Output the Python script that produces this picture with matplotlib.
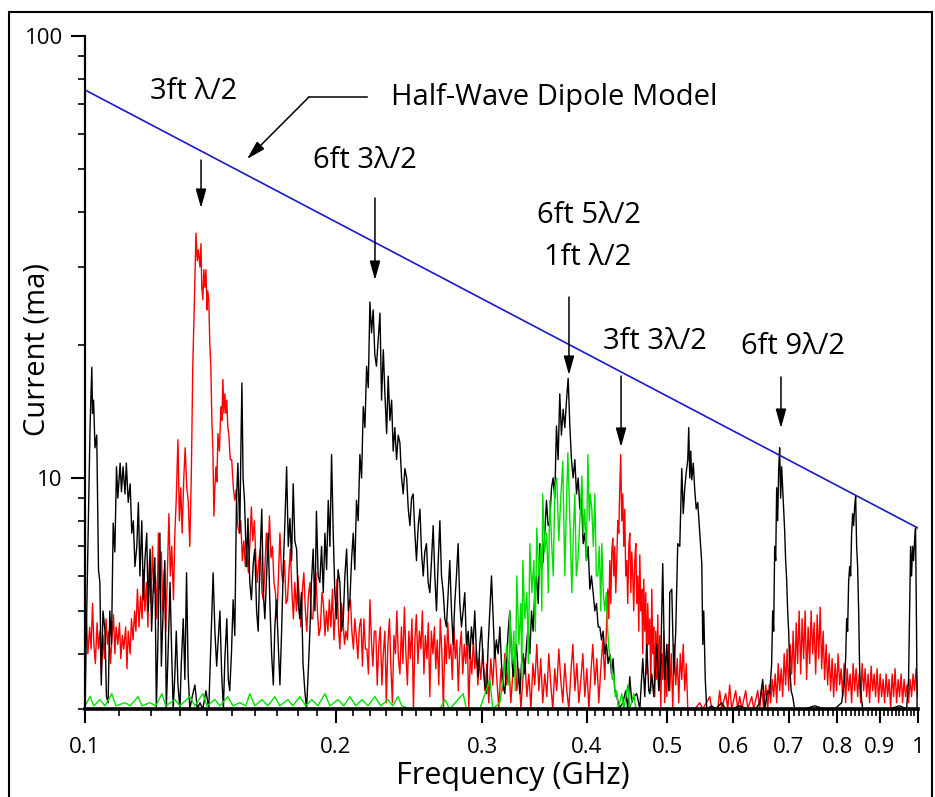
import matplotlib
import matplotlib.pyplot as plt
import numpy as np
from matplotlib.patches import Rectangle
from matplotlib.ticker import FixedLocator, FixedFormatter, NullFormatter

plt.switch_backend("agg")
plt.rcParams["font.family"] = ["Open Sans", "DejaVu Sans"]

# half-wave dipole model (straight line on log-log)
DIPOLE_F = [0.1, 1.0]
DIPOLE_I = [75.5, 7.7]

BLACK = [
    (0.1000, 3.0), (0.1008, 7.0), (0.1014, 13.0), (0.1019, 17.8), (0.1021, 14.0),
    (0.1024, 15.0), (0.1028, 11.7), (0.1033, 12.5), (0.1038, 6.2), (0.1042, 5.8),
    (0.1046, 3.4), (0.1051, 5.0), (0.1057, 4.5), (0.1061, 3.2), (0.1066, 3.1),
    (0.1071, 5.0), (0.1076, 4.2), (0.1081, 7.9), (0.1086, 6.8), (0.1091, 10.6),
    (0.1095, 9.0), (0.1102, 10.8), (0.1106, 9.3), (0.1111, 10.6), (0.1117, 9.2),
    (0.1121, 10.8), (0.1127, 8.8), (0.1133, 9.7), (0.1138, 7.5), (0.1143, 8.0),
    (0.1148, 6.3), (0.1154, 7.0), (0.1159, 8.8), (0.1164, 6.0), (0.1170, 8.0),
    (0.1175, 5.3), (0.1180, 6.5), (0.1186, 7.5), (0.1191, 5.0), (0.1197, 6.9),
    (0.1202, 4.5), (0.1207, 5.5), (0.1213, 6.6), (0.1218, 3.0), (0.1224, 4.5),
    (0.1230, 7.5), (0.1235, 3.75), (0.1241, 5.0), (0.1247, 6.5), (0.1252, 3.0),
    (0.1258, 4.0), (0.1265, 5.8), (0.1270, 4.2), (0.1276, 3.0), (0.1282, 3.6),
    (0.1287, 4.5), (0.1293, 3.4), (0.1300, 3.0), (0.1305, 3.8), (0.1312, 4.8),
    (0.1318, 3.5), (0.1324, 6.1), (0.1330, 3.6), (0.1336, 3.0), (0.1345, 3.2),
    (0.1355, 3.4), (0.1364, 3.0), (0.1374, 3.1), (0.1385, 3.0), (0.1397, 3.3),
    (0.1408, 3.0), (0.1416, 4.2), (0.1425, 6.1), (0.1432, 4.5), (0.1439, 3.75),
    (0.1445, 4.3), (0.1452, 5.0), (0.1459, 3.6), (0.1466, 3.0), (0.1472, 3.9),
    (0.1480, 4.8), (0.1486, 3.5), (0.1492, 3.3), (0.1499, 4.0), (0.1506, 5.3),
    (0.1513, 4.4), (0.1520, 8.9), (0.1526, 10.8), (0.1534, 7.5), (0.1538, 11.0),
    (0.1543, 16.4), (0.1548, 10.0), (0.1554, 8.9), (0.1563, 6.3), (0.1569, 8.1),
    (0.1577, 5.8), (0.1584, 5.3), (0.1592, 6.4), (0.1599, 6.9), (0.1607, 5.0),
    (0.1614, 4.5), (0.1622, 6.5), (0.1630, 8.5), (0.1637, 5.5), (0.1644, 4.8),
    (0.1652, 6.0), (0.1659, 7.5), (0.1667, 5.2), (0.1675, 4.0), (0.1683, 3.4),
    (0.1690, 4.6), (0.1698, 5.3), (0.1706, 4.2), (0.1714, 3.4), (0.1722, 4.5),
    (0.1730, 6.3), (0.1738, 8.0), (0.1746, 10.6), (0.1754, 7.0), (0.1762, 8.1),
    (0.1770, 6.5), (0.1778, 9.7), (0.1786, 7.2), (0.1795, 6.9), (0.1803, 5.2),
    (0.1811, 4.8), (0.1819, 5.5), (0.1827, 3.8), (0.1836, 3.3), (0.1845, 3.0),
    (0.1853, 3.6), (0.1862, 4.5), (0.1870, 5.8), (0.1879, 6.9), (0.1888, 5.0),
    (0.1896, 8.4), (0.1905, 6.0), (0.1914, 5.8), (0.1923, 7.0), (0.1932, 5.5),
    (0.1941, 7.5), (0.1950, 6.2), (0.1959, 8.9), (0.1968, 7.0), (0.1977, 11.3),
    (0.1986, 7.5), (0.1995, 5.5), (0.2004, 4.8), (0.2013, 6.2), (0.2023, 5.8),
    (0.2032, 4.5), (0.2042, 4.8), (0.2051, 6.0), (0.2061, 6.9), (0.2071, 5.0),
    (0.2080, 5.3), (0.2089, 6.5), (0.2099, 7.5), (0.2108, 6.2), (0.2118, 8.9),
    (0.2128, 8.0), (0.2138, 11.3), (0.2148, 10.0), (0.2158, 14.5), (0.2168, 13.0),
    (0.2178, 17.9), (0.2188, 16.0), (0.2198, 25.0), (0.2208, 21.3), (0.2218, 24.0),
    (0.2228, 19.0), (0.2238, 17.9), (0.2249, 20.5), (0.2260, 23.6), (0.2270, 15.0),
    (0.2281, 19.5), (0.2291, 15.5), (0.2302, 12.6), (0.2312, 17.0), (0.2323, 13.5),
    (0.2334, 15.0), (0.2344, 11.5), (0.2355, 13.0), (0.2366, 11.0), (0.2377, 12.5),
    (0.2388, 12.0), (0.2399, 10.0), (0.2410, 9.2), (0.2421, 10.5), (0.2433, 10.0),
    (0.2444, 8.5), (0.2455, 7.8), (0.2466, 9.0), (0.2477, 9.2), (0.2489, 7.5),
    (0.2500, 6.5), (0.2512, 7.8), (0.2524, 8.5), (0.2535, 6.8), (0.2547, 6.0),
    (0.2558, 6.8), (0.2570, 7.1), (0.2582, 5.8), (0.2594, 5.5), (0.2606, 6.5),
    (0.2618, 7.8), (0.2630, 6.0), (0.2642, 5.0), (0.2655, 6.5), (0.2667, 8.0),
    (0.2679, 6.0), (0.2692, 5.5), (0.2704, 4.8), (0.2716, 4.6), (0.2729, 5.5),
    (0.2741, 6.5), (0.2754, 5.0), (0.2767, 4.2), (0.2779, 5.2), (0.2792, 6.0),
    (0.2805, 7.1), (0.2818, 5.2), (0.2831, 4.6), (0.2844, 5.0), (0.2857, 5.5),
    (0.2870, 4.2), (0.2884, 4.5), (0.2897, 3.9), (0.2910, 4.6), (0.2924, 4.2),
    (0.2937, 5.0), (0.2951, 4.0), (0.2965, 3.55), (0.2978, 4.2), (0.2992, 4.6),
    (0.3006, 3.8), (0.3020, 3.4), (0.3034, 3.25), (0.3048, 4.2), (0.3062, 5.0),
    (0.3076, 6.0), (0.3090, 4.8), (0.3104, 3.9), (0.3118, 4.3), (0.3133, 4.0),
    (0.3148, 4.6), (0.3162, 3.8), (0.3177, 3.4), (0.3191, 3.25), (0.3206, 3.8),
    (0.3221, 4.5), (0.3236, 5.0), (0.3251, 4.0), (0.3266, 3.55), (0.3281, 3.8),
    (0.3296, 4.2), (0.3312, 3.6), (0.3327, 3.25), (0.3342, 3.8), (0.3358, 4.0),
    (0.3373, 3.6), (0.3389, 4.2), (0.3404, 4.6), (0.3420, 4.0), (0.3436, 5.0),
    (0.3451, 4.5), (0.3467, 5.5), (0.3483, 6.0), (0.3500, 5.2), (0.3516, 7.1),
    (0.3532, 6.2), (0.3548, 6.5), (0.3564, 7.5), (0.3581, 8.9), (0.3597, 7.8),
    (0.3614, 8.0), (0.3631, 9.5), (0.3647, 10.0), (0.3664, 9.0), (0.3681, 13.1),
    (0.3698, 11.0), (0.3715, 15.5), (0.3732, 12.5), (0.3750, 14.3), (0.3767, 13.0),
    (0.3785, 15.0), (0.3802, 16.8), (0.3820, 13.1), (0.3837, 11.0), (0.3855, 10.0),
    (0.3873, 11.0), (0.3891, 9.2), (0.3909, 10.0), (0.3927, 8.5), (0.3945, 9.0),
    (0.3963, 7.1), (0.3981, 7.5), (0.4000, 6.5), (0.4018, 7.0), (0.4037, 5.6),
    (0.4055, 6.0), (0.4074, 5.5), (0.4093, 5.0), (0.4112, 5.2), (0.4131, 4.6),
    (0.4150, 4.6), (0.4169, 4.3), (0.4188, 4.5), (0.4207, 4.0), (0.4227, 4.2),
    (0.4246, 3.8), (0.4266, 4.0), (0.4286, 3.6), (0.4305, 3.9), (0.4325, 3.3),
    (0.4345, 3.25), (0.4365, 3.1), (0.4385, 3.02), (0.4422, 3.1), (0.4458, 3.3),
    (0.4483, 3.0), (0.4508, 3.55), (0.4533, 3.1), (0.4558, 3.2), (0.4596, 3.25),
    (0.4635, 3.0), (0.4673, 3.9), (0.4699, 3.2), (0.4725, 4.2), (0.4751, 3.3),
    (0.4765, 3.25), (0.4791, 3.6), (0.4817, 3.2), (0.4857, 4.2), (0.4884, 3.3),
    (0.4911, 3.8), (0.4938, 6.4), (0.4966, 3.5), (0.4993, 4.2), (0.5021, 3.3),
    (0.5035, 5.5), (0.5063, 5.6), (0.5091, 3.6), (0.5119, 4.5), (0.5147, 7.1),
    (0.5176, 7.0), (0.5190, 8.5), (0.5205, 10.5), (0.5226, 8.3), (0.5248, 9.5),
    (0.5270, 10.3), (0.5292, 11.0), (0.5306, 13.0), (0.5321, 10.0), (0.5336, 11.5),
    (0.5350, 9.9), (0.5373, 10.8), (0.5395, 9.4), (0.5417, 8.5), (0.5440, 8.8),
    (0.5470, 7.5), (0.5501, 6.4), (0.5516, 4.2), (0.5531, 5.0), (0.5554, 3.5),
    (0.5577, 3.0), (0.5655, 3.05), (0.5717, 3.0), (0.5812, 3.1), (0.5877, 3.0),
    (0.5975, 3.0), (0.6109, 3.05), (0.6246, 3.0), (0.6385, 3.0), (0.6456, 3.1),
    (0.6510, 3.5), (0.6546, 3.0), (0.6600, 3.3), (0.6637, 3.25), (0.6673, 3.8),
    (0.6692, 5.0), (0.6710, 4.5), (0.6729, 7.0), (0.6748, 6.5), (0.6766, 9.5),
    (0.6785, 8.0), (0.6804, 10.5), (0.6822, 11.7), (0.6841, 9.0), (0.6860, 10.6),
    (0.6879, 9.5), (0.6898, 8.5), (0.6917, 7.6), (0.6936, 6.5), (0.6955, 5.9),
    (0.6975, 5.0), (0.6994, 4.5), (0.7013, 3.8), (0.7042, 3.3), (0.7072, 3.2),
    (0.7111, 3.0), (0.7310, 3.0), (0.7515, 3.05), (0.7725, 3.0), (0.7942, 3.0),
    (0.8097, 3.1), (0.8164, 3.5), (0.8187, 3.9), (0.8210, 4.8), (0.8232, 4.5),
    (0.8255, 5.8), (0.8278, 6.3), (0.8301, 6.0), (0.8324, 7.5), (0.8347, 8.3),
    (0.8370, 7.8), (0.8393, 8.6), (0.8417, 9.1), (0.8440, 7.0), (0.8463, 6.3),
    (0.8487, 5.0), (0.8510, 3.7), (0.8534, 3.3), (0.8581, 3.0), (0.8870, 3.0),
    (0.9245, 3.0), (0.9504, 3.05), (0.9690, 3.0), (0.9743, 3.5), (0.9770, 5.0),
    (0.9797, 7.0), (0.9824, 6.0), (0.9851, 7.0), (0.9878, 6.5), (0.9905, 7.2),
    (0.9932, 7.7), (0.9960, 4.5), (0.9975, 3.0),
]

RED = [
    (0.1000, 4.3), (0.1004, 4.8), (0.1008, 4.0), (0.1013, 4.6), (0.1017, 4.1),
    (0.1021, 5.2), (0.1025, 4.2), (0.1029, 3.8), (0.1034, 4.7), (0.1038, 4.1),
    (0.1042, 4.5), (0.1046, 3.6), (0.1051, 4.4), (0.1055, 3.9), (0.1060, 4.8),
    (0.1064, 4.2), (0.1068, 4.5), (0.1073, 3.8), (0.1077, 4.3), (0.1082, 4.9),
    (0.1086, 4.0), (0.1090, 4.6), (0.1095, 4.2), (0.1100, 4.7), (0.1104, 3.9),
    (0.1109, 4.4), (0.1113, 4.1), (0.1119, 4.6), (0.1123, 3.7), (0.1127, 4.5),
    (0.1133, 4.0), (0.1137, 4.8), (0.1142, 4.3), (0.1147, 5.0), (0.1151, 4.5),
    (0.1156, 5.6), (0.1161, 4.6), (0.1166, 5.4), (0.1171, 4.8), (0.1175, 6.2),
    (0.1180, 5.0), (0.1185, 5.8), (0.1190, 4.6), (0.1195, 6.5), (0.1200, 5.2),
    (0.1205, 7.0), (0.1210, 5.5), (0.1215, 6.0), (0.1220, 4.8), (0.1225, 7.5),
    (0.1230, 5.6), (0.1235, 6.8), (0.1240, 5.0), (0.1245, 6.2), (0.1250, 4.5),
    (0.1255, 5.8), (0.1261, 8.3), (0.1266, 6.0), (0.1271, 7.0), (0.1277, 5.3),
    (0.1282, 7.5), (0.1287, 9.0), (0.1293, 12.2), (0.1298, 8.0), (0.1303, 9.5),
    (0.1308, 7.5), (0.1314, 10.0), (0.1319, 11.7), (0.1325, 9.5), (0.1330, 8.9),
    (0.1336, 7.0), (0.1342, 10.5), (0.1347, 17.9), (0.1353, 25.0), (0.1359, 35.8),
    (0.1364, 31.0), (0.1368, 32.8), (0.1374, 30.0), (0.1378, 33.9), (0.1381, 27.0),
    (0.1385, 25.3), (0.1389, 29.6), (0.1393, 27.0), (0.1397, 29.6), (0.1401, 24.0),
    (0.1404, 26.5), (0.1408, 25.3), (0.1412, 20.0), (0.1416, 17.9), (0.1420, 13.5),
    (0.1424, 11.6), (0.1428, 8.2), (0.1432, 9.5), (0.1436, 10.6), (0.1440, 9.8),
    (0.1444, 12.6), (0.1450, 11.5), (0.1456, 14.5), (0.1460, 13.5), (0.1464, 16.7),
    (0.1468, 14.0), (0.1472, 15.5), (0.1476, 14.0), (0.1480, 15.0), (0.1484, 13.0),
    (0.1488, 12.6), (0.1494, 11.0), (0.1500, 11.0), (0.1507, 9.5), (0.1513, 8.9),
    (0.1519, 9.4), (0.1525, 7.8), (0.1532, 7.5), (0.1538, 8.0), (0.1545, 6.5),
    (0.1551, 7.2), (0.1558, 6.3), (0.1564, 6.8), (0.1571, 6.1), (0.1577, 7.0),
    (0.1584, 8.6), (0.1590, 7.2), (0.1597, 8.0), (0.1604, 6.5), (0.1610, 5.8),
    (0.1617, 6.5), (0.1624, 6.9), (0.1631, 5.5), (0.1637, 5.3), (0.1644, 6.2),
    (0.1651, 7.5), (0.1658, 6.5), (0.1665, 8.2), (0.1672, 6.6), (0.1679, 7.0),
    (0.1686, 5.8), (0.1693, 5.5), (0.1700, 4.8), (0.1707, 6.0), (0.1714, 7.5),
    (0.1721, 6.2), (0.1728, 5.8), (0.1736, 6.5), (0.1743, 5.2), (0.1750, 5.3),
    (0.1757, 6.1), (0.1764, 6.9), (0.1772, 5.5), (0.1779, 4.8), (0.1786, 5.8),
    (0.1794, 5.0), (0.1801, 6.0), (0.1809, 5.3), (0.1816, 4.6), (0.1824, 5.6),
    (0.1831, 6.1), (0.1839, 5.0), (0.1846, 4.5), (0.1854, 5.4), (0.1862, 5.8),
    (0.1870, 4.8), (0.1877, 4.8), (0.1885, 5.6), (0.1893, 6.1), (0.1901, 5.0),
    (0.1909, 4.4), (0.1917, 4.6), (0.1925, 5.5), (0.1933, 5.2), (0.1941, 4.4),
    (0.1949, 5.0), (0.1957, 4.5), (0.1965, 5.3), (0.1973, 4.6), (0.1982, 5.6),
    (0.1990, 4.3), (0.1998, 5.0), (0.2007, 5.9), (0.2015, 4.6), (0.2023, 4.1),
    (0.2032, 5.2), (0.2040, 4.8), (0.2049, 4.2), (0.2057, 4.5), (0.2066, 4.3),
    (0.2074, 5.2), (0.2083, 5.3), (0.2091, 4.5), (0.2100, 4.1), (0.2108, 4.8),
    (0.2117, 4.4), (0.2126, 3.9), (0.2135, 4.6), (0.2144, 4.8), (0.2153, 3.75),
    (0.2162, 4.8), (0.2171, 4.1), (0.2180, 4.1), (0.2189, 3.6), (0.2198, 5.3),
    (0.2207, 4.3), (0.2216, 3.75), (0.2225, 4.5), (0.2234, 4.5), (0.2243, 3.4),
    (0.2253, 4.2), (0.2262, 4.6), (0.2272, 3.4), (0.2281, 4.0), (0.2291, 4.5),
    (0.2300, 3.1), (0.2310, 4.2), (0.2320, 4.8), (0.2329, 3.75), (0.2339, 3.1),
    (0.2349, 4.4), (0.2359, 4.0), (0.2368, 5.0), (0.2378, 3.9), (0.2388, 3.6),
    (0.2398, 4.6), (0.2408, 3.8), (0.2418, 5.1), (0.2428, 4.0), (0.2438, 3.4),
    (0.2448, 4.5), (0.2458, 3.9), (0.2469, 4.8), (0.2479, 3.0), (0.2489, 4.3),
    (0.2499, 4.9), (0.2510, 3.8), (0.2520, 4.5), (0.2531, 4.1), (0.2541, 5.0),
    (0.2552, 3.6), (0.2562, 4.4), (0.2573, 3.9), (0.2583, 4.7), (0.2594, 3.2),
    (0.2605, 4.5), (0.2616, 4.0), (0.2627, 4.6), (0.2637, 3.7), (0.2648, 4.3),
    (0.2659, 3.4), (0.2670, 4.8), (0.2682, 4.0), (0.2693, 3.0), (0.2704, 4.4),
    (0.2715, 3.8), (0.2726, 4.7), (0.2737, 3.9), (0.2749, 4.2), (0.2760, 3.5),
    (0.2772, 4.6), (0.2783, 3.9), (0.2795, 4.3), (0.2806, 3.3), (0.2818, 4.1),
    (0.2830, 4.5), (0.2841, 3.6), (0.2853, 4.2), (0.2865, 3.8), (0.2877, 4.4),
    (0.2889, 3.0), (0.2901, 4.0), (0.2913, 3.6), (0.2925, 4.3), (0.2937, 3.7),
    (0.2950, 4.1), (0.2962, 3.4), (0.2974, 3.9), (0.2986, 3.5), (0.3003, 4.1),
    (0.3020, 3.3), (0.3037, 3.8), (0.3053, 3.1), (0.3070, 3.9), (0.3087, 3.4),
    (0.3104, 4.2), (0.3122, 3.5), (0.3139, 3.0), (0.3157, 3.7), (0.3174, 3.3),
    (0.3191, 4.0), (0.3209, 3.4), (0.3227, 3.8), (0.3245, 3.1), (0.3263, 3.6),
    (0.3281, 4.1), (0.3299, 3.3), (0.3318, 3.7), (0.3336, 3.0), (0.3354, 3.5),
    (0.3373, 3.9), (0.3392, 3.2), (0.3411, 3.6), (0.3430, 3.0), (0.3449, 3.8),
    (0.3467, 3.4), (0.3486, 4.2), (0.3506, 3.3), (0.3525, 3.9), (0.3544, 3.1),
    (0.3564, 3.6), (0.3584, 3.2), (0.3604, 4.0), (0.3624, 3.4), (0.3644, 3.0),
    (0.3664, 3.7), (0.3684, 3.3), (0.3705, 4.1), (0.3725, 3.5), (0.3746, 3.1),
    (0.3767, 3.8), (0.3788, 3.3), (0.3809, 3.0), (0.3830, 3.6), (0.3852, 4.2),
    (0.3873, 3.3), (0.3895, 3.8), (0.3916, 3.1), (0.3938, 3.5), (0.3960, 4.0),
    (0.3981, 3.2), (0.4004, 3.7), (0.4026, 3.0), (0.4048, 3.6), (0.4070, 4.2),
    (0.4093, 3.4), (0.4116, 3.9), (0.4138, 3.1), (0.4161, 3.7), (0.4184, 4.3),
    (0.4207, 3.5), (0.4225, 4.5), (0.4242, 5.6), (0.4254, 4.8), (0.4266, 6.5),
    (0.4278, 5.2), (0.4289, 6.8), (0.4301, 7.3), (0.4313, 6.0), (0.4325, 7.0),
    (0.4337, 5.5), (0.4349, 6.5), (0.4361, 8.0), (0.4373, 7.5), (0.4385, 9.5),
    (0.4397, 11.3), (0.4409, 8.0), (0.4422, 9.2), (0.4434, 7.0), (0.4446, 8.5),
    (0.4458, 6.0), (0.4471, 6.5), (0.4483, 5.2), (0.4496, 7.0), (0.4508, 7.5),
    (0.4521, 5.5), (0.4533, 6.8), (0.4546, 6.0), (0.4558, 5.0), (0.4571, 6.5),
    (0.4584, 7.1), (0.4596, 5.2), (0.4609, 6.0), (0.4622, 4.5), (0.4635, 6.7),
    (0.4648, 5.0), (0.4660, 5.6), (0.4673, 4.0), (0.4686, 5.9), (0.4699, 4.5),
    (0.4712, 5.5), (0.4725, 3.6), (0.4738, 5.2), (0.4751, 4.2), (0.4765, 4.8),
    (0.4778, 3.3), (0.4791, 5.6), (0.4804, 4.0), (0.4817, 4.6), (0.4830, 3.2),
    (0.4844, 4.5), (0.4857, 3.5), (0.4871, 4.9), (0.4884, 3.3), (0.4898, 4.4),
    (0.4911, 3.0), (0.4925, 4.0), (0.4938, 3.5), (0.4952, 4.5), (0.4966, 3.1),
    (0.4980, 3.9), (0.4993, 3.2), (0.5014, 4.2), (0.5035, 3.3), (0.5056, 4.0),
    (0.5077, 3.0), (0.5098, 4.2), (0.5119, 3.4), (0.5140, 3.9), (0.5162, 3.1),
    (0.5183, 4.0), (0.5205, 3.5), (0.5226, 4.2), (0.5248, 3.3), (0.5270, 3.8),
    (0.5292, 3.0), (0.5395, 3.0), (0.5470, 3.1), (0.5516, 3.0), (0.5624, 3.2),
    (0.5655, 3.0), (0.5749, 3.0), (0.5780, 3.3), (0.5812, 3.0), (0.5877, 3.25),
    (0.5910, 3.0), (0.5942, 3.4), (0.5975, 3.0), (0.6042, 3.3), (0.6075, 3.0),
    (0.6109, 3.2), (0.6143, 3.0), (0.6211, 3.3), (0.6246, 3.0), (0.6315, 3.2),
    (0.6350, 3.0), (0.6420, 3.3), (0.6456, 3.0), (0.6492, 3.35), (0.6528, 3.0),
    (0.6564, 3.4), (0.6600, 3.0), (0.6628, 3.4), (0.6655, 3.1), (0.6683, 3.5),
    (0.6710, 3.2), (0.6739, 3.6), (0.6766, 3.1), (0.6795, 3.8), (0.6822, 3.3),
    (0.6851, 3.7), (0.6879, 3.2), (0.6908, 4.0), (0.6936, 3.4), (0.6965, 4.1),
    (0.6994, 3.3), (0.7023, 4.2), (0.7052, 3.6), (0.7082, 4.5), (0.7111, 3.4),
    (0.7141, 4.7), (0.7170, 3.8), (0.7200, 5.0), (0.7230, 3.6), (0.7260, 4.8),
    (0.7290, 3.9), (0.7320, 5.0), (0.7350, 3.5), (0.7381, 4.6), (0.7412, 3.8),
    (0.7443, 5.0), (0.7474, 4.0), (0.7505, 4.7), (0.7536, 3.6), (0.7568, 4.9),
    (0.7599, 3.9), (0.7631, 5.1), (0.7662, 3.7), (0.7694, 4.5), (0.7725, 3.5),
    (0.7758, 4.2), (0.7790, 3.4), (0.7822, 4.0), (0.7855, 3.3), (0.7887, 3.9),
    (0.7920, 3.2), (0.7953, 3.8), (0.7986, 3.3), (0.8019, 4.0), (0.8053, 3.4),
    (0.8086, 3.7), (0.8120, 3.2), (0.8153, 3.8), (0.8187, 3.1), (0.8221, 3.7),
    (0.8255, 3.3), (0.8290, 3.6), (0.8324, 3.1), (0.8359, 3.8), (0.8393, 3.3),
    (0.8428, 3.7), (0.8463, 3.2), (0.8499, 3.6), (0.8534, 3.1), (0.8569, 3.8),
    (0.8605, 3.3), (0.8640, 3.7), (0.8676, 3.2), (0.8712, 3.6), (0.8748, 3.1),
    (0.8785, 3.75), (0.8821, 3.3), (0.8858, 3.6), (0.8894, 3.2), (0.8931, 3.7),
    (0.8968, 3.1), (0.9006, 3.6), (0.9043, 3.2), (0.9081, 3.5), (0.9118, 3.1),
    (0.9156, 3.6), (0.9194, 3.2), (0.9233, 3.5), (0.9271, 3.0), (0.9310, 3.6),
    (0.9348, 3.2), (0.9386, 3.7), (0.9425, 3.1), (0.9465, 3.5), (0.9504, 3.2),
    (0.9544, 3.6), (0.9583, 3.1), (0.9623, 3.5), (0.9663, 3.2), (0.9703, 3.4),
    (0.9743, 3.1), (0.9783, 3.5), (0.9824, 3.2), (0.9865, 3.6), (0.9905, 3.3),
    (0.9946, 3.7), (1.0000, 3.2),
]

GREEN = [
    (0.1000, 3.05), (0.1014, 3.2), (0.1025, 3.05), (0.1042, 3.15), (0.1057, 3.05),
    (0.1077, 3.25), (0.1089, 3.05), (0.1117, 3.1), (0.1133, 3.05), (0.1158, 3.2),
    (0.1171, 3.05), (0.1197, 3.1), (0.1216, 3.05), (0.1237, 3.25), (0.1250, 3.05),
    (0.1282, 3.15), (0.1300, 3.05), (0.1336, 3.2), (0.1355, 3.05), (0.1385, 3.25),
    (0.1401, 3.05), (0.1432, 3.15), (0.1452, 3.05), (0.1484, 3.2), (0.1505, 3.05),
    (0.1534, 3.1), (0.1560, 3.05), (0.1577, 3.25), (0.1599, 3.05), (0.1631, 3.15),
    (0.1658, 3.05), (0.1690, 3.2), (0.1714, 3.05), (0.1752, 3.15), (0.1776, 3.05),
    (0.1811, 3.2), (0.1841, 3.05), (0.1872, 3.15), (0.1904, 3.05), (0.1941, 3.25),
    (0.1968, 3.05), (0.2012, 3.15), (0.2045, 3.05), (0.2080, 3.2), (0.2114, 3.05),
    (0.2150, 3.15), (0.2186, 3.05), (0.2228, 3.2), (0.2266, 3.05), (0.2310, 3.15),
    (0.2342, 3.05), (0.2375, 3.2), (0.2401, 3.05), (0.2455, 3.0), (0.2667, 3.0),
    (0.2704, 3.15), (0.2741, 3.0), (0.2844, 3.25), (0.2870, 3.0), (0.2978, 3.0),
    (0.3062, 3.5), (0.3087, 3.0), (0.3148, 3.1), (0.3183, 3.6), (0.3209, 4.2),
    (0.3227, 3.4), (0.3236, 5.0), (0.3254, 3.8), (0.3272, 4.5), (0.3285, 3.3),
    (0.3299, 6.0), (0.3318, 4.2), (0.3336, 5.2), (0.3345, 3.5), (0.3354, 6.5),
    (0.3373, 4.8), (0.3392, 5.5), (0.3406, 3.8), (0.3420, 7.1), (0.3439, 5.5),
    (0.3458, 6.5), (0.3472, 4.5), (0.3486, 7.7), (0.3506, 6.0), (0.3525, 7.0),
    (0.3535, 5.0), (0.3544, 9.2), (0.3564, 6.8), (0.3584, 7.5), (0.3599, 5.5),
    (0.3614, 8.9), (0.3634, 7.0), (0.3649, 6.0), (0.3664, 9.5), (0.3684, 10.0),
    (0.3705, 7.2), (0.3725, 9.0), (0.3746, 10.9), (0.3767, 6.0), (0.3783, 8.5),
    (0.3799, 11.4), (0.3820, 8.0), (0.3841, 5.5), (0.3857, 7.5), (0.3873, 9.2),
    (0.3889, 6.0), (0.3906, 6.5), (0.3927, 8.0), (0.3949, 10.1), (0.3965, 7.5),
    (0.3981, 8.5), (0.3998, 6.5), (0.4015, 11.3), (0.4031, 8.0), (0.4042, 9.2),
    (0.4059, 8.5), (0.4076, 7.0), (0.4093, 9.2), (0.4110, 6.0), (0.4127, 6.0),
    (0.4144, 7.0), (0.4161, 5.0), (0.4173, 7.1), (0.4190, 5.5), (0.4207, 5.0),
    (0.4225, 5.5), (0.4242, 4.5), (0.4260, 4.0), (0.4278, 3.9), (0.4295, 3.5),
    (0.4313, 3.6), (0.4331, 3.2), (0.4349, 3.3), (0.4367, 3.0), (0.4409, 3.25),
    (0.4434, 3.0), (0.4483, 3.4), (0.4508, 3.0), (0.4558, 3.25), (0.4584, 3.0),
    (0.4635, 3.0),
]

XTICKS = [0.1, 0.2, 0.3, 0.4, 0.5, 0.6, 0.7, 0.8, 0.9, 1.0]
XTICK_LABELS = ["0.1", "0.2", "0.3", "0.4", "0.5", "0.6", "0.7", "0.8", "0.9", "1"]
YTICKS = [10, 100]
YTICK_LABELS = ["10", "100"]

W, H = 935, 797
fig = plt.figure(figsize=(W / 100, H / 100), dpi=100)
ax = fig.add_axes([85 / W, 1 - 709 / H, 833 / W, 673 / H])

for data, color in [(RED, "#ff0000"), (BLACK, "#000000"), (GREEN, "#00e000")]:
    f, cur = zip(*data)
    ax.plot(f, cur, color=color, lw=1.0)
ax.plot(DIPOLE_F, DIPOLE_I, color="#1818cc", lw=1.2)

ax.set_xscale("log")
ax.set_yscale("log")
ax.set_xlim(0.1, 1.0)
ax.set_ylim(3.0, 100)

ax.spines["top"].set_visible(False)
ax.spines["right"].set_visible(False)
ax.spines["left"].set_linewidth(1.6)
ax.spines["bottom"].set_linewidth(2.6)

ax.xaxis.set_major_locator(FixedLocator(XTICKS))
ax.xaxis.set_major_formatter(FixedFormatter(XTICK_LABELS))
xminor = [v / 100 for v in range(11, 100) if v % 10 != 0]
ax.xaxis.set_minor_locator(FixedLocator(xminor))
ax.xaxis.set_minor_formatter(NullFormatter())
ax.yaxis.set_major_locator(FixedLocator(YTICKS))
ax.yaxis.set_major_formatter(FixedFormatter(YTICK_LABELS))
yminor = [3, 4, 5, 6, 7, 8, 9, 20, 30, 40, 50, 60, 70, 80, 90]
ax.yaxis.set_minor_locator(FixedLocator(yminor))
ax.yaxis.set_minor_formatter(NullFormatter())

ax.tick_params(axis="both", which="major", direction="out", length=10, width=1.5, labelsize=16)
ax.tick_params(axis="both", which="minor", direction="out", length=5, width=1.2)
ax.tick_params(axis="x", which="major", pad=10)
ax.tick_params(axis="y", which="major", pad=6)

fig.text(513 / W, 1 - 776 / H, "Frequency (GHz)", ha="center", va="center", fontsize=22)
fig.text(37 / W, 1 - 350 / H, "Current (ma)", ha="center", va="center", rotation=90, fontsize=21)

# annotations, positions in axes fraction
arrow_kw = dict(arrowstyle="-|>,head_length=1.15,head_width=0.32", mutation_scale=10,
                color="black", lw=1.1, shrinkA=0, shrinkB=0)
labels = [
    ("3ft \u03bb/2", 0.1309, 0.9168),
    ("6ft 3\u03bb/2", 0.3361, 0.8157),
    ("6ft 5\u03bb/2", 0.6050, 0.7340),
    ("1ft \u03bb/2", 0.6038, 0.6716),
    ("3ft 3\u03bb/2", 0.6843, 0.5468),
    ("6ft 9\u03bb/2", 0.8499, 0.5379),
]
for txt, x, y in labels:
    ax.text(x, y, txt, transform=ax.transAxes, ha="center", va="center", fontsize=21)

arrows = [
    (0.1393, 0.8157, 0.1393, 0.7444),
    (0.3481, 0.7593, 0.3481, 0.6374),
    (0.5810, 0.6122, 0.5810, 0.4963),
    (0.6435, 0.4948, 0.6435, 0.3893),
    (0.8355, 0.4933, 0.8355, 0.4175),
    (0.2689, 0.9094, 0.1945, 0.8172),
]
for x0, y0, x1, y1 in arrows:
    ax.annotate("", xy=(x1, y1), xytext=(x0, y0), xycoords="axes fraction",
                textcoords="axes fraction", arrowprops=arrow_kw, annotation_clip=False)
ax.plot([0.3385, 0.2689], [0.9094, 0.9094], transform=ax.transAxes, color="black",
        lw=1.1, clip_on=False)
ax.text(0.3673, 0.9079, "Half-Wave Dipole Model", transform=ax.transAxes,
        ha="left", va="center", fontsize=21)

fig.add_artist(Rectangle((9 / W, -0.02), (932 - 9) / W, (H - 12) / H + 0.02,
                         fill=False, lw=1.5, ec="black", transform=fig.transFigure))

fig.savefig("out.png", dpi=100)
